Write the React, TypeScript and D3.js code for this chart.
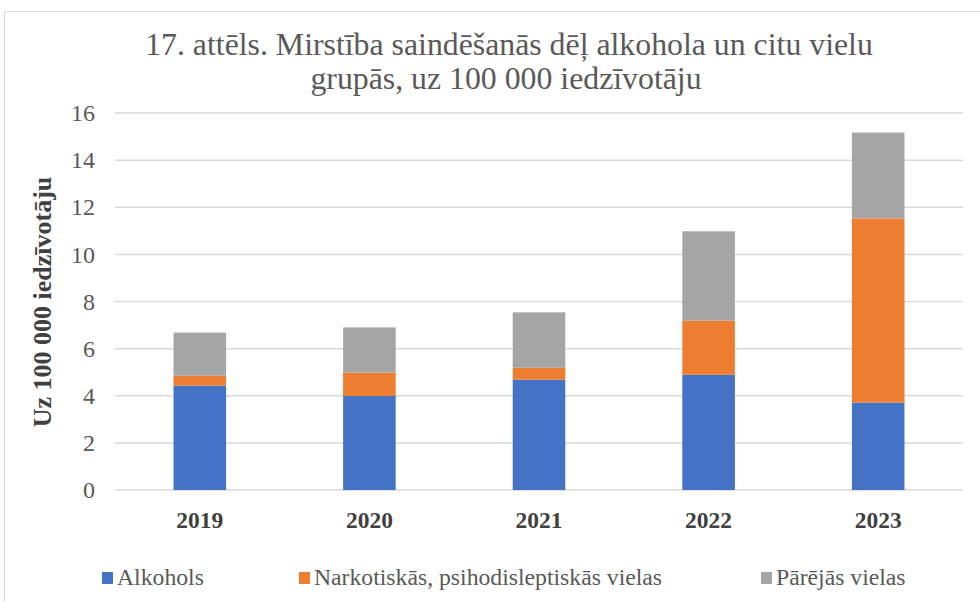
import React from "react";
import * as d3 from "d3";

const years = ["2019", "2020", "2021", "2022", "2023"];
const alkohols = [4.43, 3.99, 4.68, 4.89, 3.71];
const narkotiskas = [0.42, 0.99, 0.51, 2.3, 7.82];
const parejas = [1.83, 1.92, 2.35, 3.79, 3.64];
const seriesNames = ["Alkohols", "Narkotiskās, psihodisleptiskās vielas", "Pārējās vielas"];
const colors = ["#4472C4", "#ED7D31", "#A5A5A5"];
const yTicks = [0, 2, 4, 6, 8, 10, 12, 14, 16];

const FONT = "Liberation Serif, Times New Roman, serif";

export default function App() {
  const W = 980, H = 602;
  const left = 115, right = 963, top = 113, bottom = 490;
  const x = d3.scaleBand().domain(years).range([left, right]).paddingInner(0.69).paddingOuter(0.345);
  const y = d3.scaleLinear().domain([0, 16]).range([bottom, top]);
  const rows = years.map((yr, i) => ({ year: yr, a: alkohols[i], n: narkotiskas[i], p: parejas[i] }));
  const stack = d3.stack<any>().keys(["a", "n", "p"])(rows);
  const legendX = [102, 299, 761];
  return (
    <svg width={W} height={H} style={{ position: "absolute", left: 0, top: 0, background: "#fff", fontFamily: FONT }}>
      <rect x={4.5} y={11.5} width={1100} height={700} fill="#fff" stroke="#d9d9d9" strokeWidth={1} />
      <text x={509} y={55} textAnchor="middle" style={{ fontFamily: FONT, fontSize: 31.8 }} fill="#595959">
        17. attēls. Mirstība saindēšanās dēļ alkohola un citu vielu
      </text>
      <text x={506} y={89} textAnchor="middle" style={{ fontFamily: FONT, fontSize: 31.8 }} fill="#595959">
        grupās, uz 100 000 iedzīvotāju
      </text>
      {yTicks.map((t) => (
        <g key={t}>
          <line x1={left} x2={right} y1={y(t)} y2={y(t)} stroke="#d9d9d9" strokeWidth={1.5} />
          <text x={95} y={y(t)} dy="0.34em" textAnchor="end" style={{ fontFamily: FONT, fontSize: 24 }} fill="#595959">{t}</text>
        </g>
      ))}
      {stack.map((s, si) =>
        s.map((d, i) => (
          <rect key={si + "-" + i} x={x(years[i])} width={x.bandwidth()} y={y(d[1])} height={y(d[0]) - y(d[1])} fill={colors[si]} />
        ))
      )}
      {years.map((yr) => (
        <text key={yr} x={(x(yr) as number) + x.bandwidth() / 2} y={528} textAnchor="middle" style={{ fontFamily: FONT, fontSize: 23.5, fontWeight: "bold" }} fill="#404040">{yr}</text>
      ))}
      <text transform={`translate(51,302) rotate(-90)`} textAnchor="middle" style={{ fontFamily: FONT, fontSize: 26, fontWeight: "bold" }} fill="#404040">Uz 100 000 iedzīvotāju</text>
      {seriesNames.map((n, i) => (
        <g key={n}>
          <rect x={legendX[i]} y={572} width={11} height={12} fill={colors[i]} />
          <text x={legendX[i] + 15} y={585} style={{ fontFamily: FONT, fontSize: 23.7 }} fill="#595959">{n}</text>
        </g>
      ))}
    </svg>
  );
}
